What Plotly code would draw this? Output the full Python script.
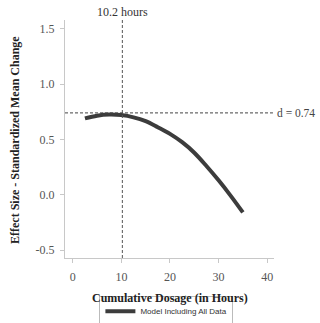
import plotly.graph_objects as go

dosage = [2.5, 5, 7.5, 10, 12.5, 15, 17.5, 20, 22.5, 25, 27.5, 30, 32.5, 35]
effect = [0.69, 0.715, 0.725, 0.72, 0.70, 0.665, 0.61, 0.55, 0.475, 0.38, 0.26, 0.13, -0.01, -0.16]
peak_x = 10.2
d_value = 0.74
x_ticks = [0, 10, 20, 30, 40]
y_ticks = [-0.5, 0.0, 0.5, 1.0, 1.5]
x_title = "Cumulative Dosage (in Hours)"
y_title = "Effect Size - Standardized Mean Change"

serif = "Liberation Serif"

fig = go.Figure()
fig.add_trace(go.Scatter(x=dosage, y=effect, mode="lines", name="Model Including All Data",
                         line=dict(color="#3c3c3c", width=4, shape="spline")))

fig.add_shape(type="line", xref="x", yref="paper", x0=peak_x, x1=peak_x, y0=0, y1=1,
              line=dict(color="#555", width=1, dash="3px,2px"))
fig.add_shape(type="line", xref="paper", yref="y", x0=0, x1=0.995, y0=d_value, y1=d_value,
              line=dict(color="#444", width=1, dash="3px,2px"))

fig.add_annotation(x=peak_x, y=1, xref="x", yref="paper", text=f"{peak_x} hours",
                   showarrow=False, yanchor="bottom", yshift=-1,
                   font=dict(family=serif, size=12, color="#333"))
fig.add_annotation(x=1, y=d_value, xref="paper", yref="y", text=f"d = {d_value}",
                   showarrow=False, xanchor="left", xshift=1,
                   font=dict(family=serif, size=11.5, color="#444"))

# axis titles
fig.add_annotation(x=0.5, y=-0.168, xref="paper", yref="paper", text=f"<b>{x_title}</b>",
                   showarrow=False, xanchor="center", yanchor="middle",
                   font=dict(family=serif, size=12, color="#222"))
fig.add_annotation(x=-0.239, y=0.496, xref="paper", yref="paper", text=f"<b>{y_title}</b>",
                   showarrow=False, xanchor="center", yanchor="middle", textangle=-90,
                   font=dict(family=serif, size=12, color="#222"))

axis_common = dict(showgrid=False, zeroline=False, showline=True, linecolor="#c8c8c8",
                   linewidth=1, ticks="outside", ticklen=4, tickcolor="#c8c8c8",
                   automargin=False,
                   tickfont=dict(family=serif, size=12, color="#555"))

fig.update_xaxes(range=[-1.6, 41.4], tickvals=x_ticks, ticktext=[str(v) for v in x_ticks],
                 ticklabelstandoff=4, **axis_common)
fig.update_yaxes(range=[-0.572, 1.58], tickvals=y_ticks, ticktext=[f"{v:.1f}" for v in y_ticks],
                 ticklabelstandoff=3, **axis_common)

fig.update_layout(width=320, height=323, margin=dict(l=65, r=46, t=20, b=65, autoexpand=False),
                  plot_bgcolor="white", paper_bgcolor="white",
                  showlegend=True,
                  legend=dict(orientation="h", x=0.52, xanchor="center", y=0.036, yanchor="middle",
                              xref="container", yref="container",
                              bordercolor="#bbb", borderwidth=1,
                              font=dict(family="Liberation Sans", size=8, color="#333"),
                              itemwidth=30, tracegroupgap=0))

fig.write_html("out.html", config={"displayModeBar": False},
               post_script="document.body.style.margin='0';")
